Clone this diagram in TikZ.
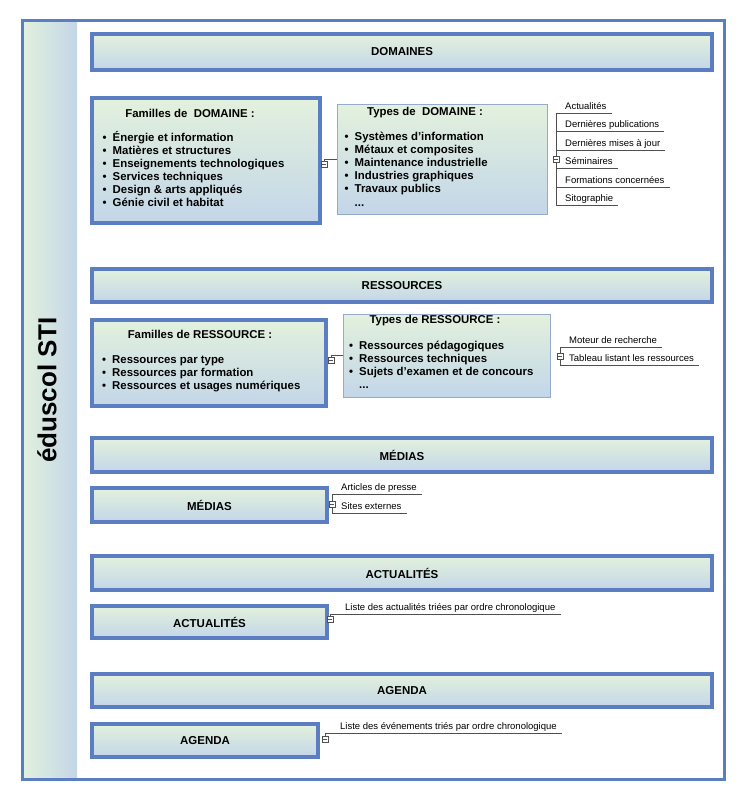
\documentclass[tikz,border=0pt]{standalone}
\usepackage{fontspec}
\setmainfont{Liberation Sans}
\usepackage{tikz}
\definecolor{bordbleu}{HTML}{5B7DC1}
\definecolor{bordclair}{HTML}{94ABCC}
\definecolor{hautvert}{HTML}{E3F1DD}
\definecolor{basbleu}{HTML}{C3D6E8}
\definecolor{filgris}{HTML}{505050}
\newcommand\puce{\makebox[10pt][l]{\textbullet}}

\begin{document}
\begin{tikzpicture}[x=1pt,y=-1pt,
 fort/.style={rectangle,draw=bordbleu,line width=4pt,top color=hautvert,bottom color=basbleu,inner sep=0pt,anchor=north west,font=\fontsize{11.5}{13}\selectfont\bfseries},
 fin/.style={rectangle,draw=bordclair,line width=1pt,top color=hautvert,bottom color=basbleu,inner sep=0pt,anchor=north west},
 titre/.style={font=\fontsize{11.4}{13}\selectfont\bfseries,inner sep=0pt},
 puceligne/.style={titre,anchor=west,text height=8pt,text depth=2.5pt},
 etiq/.style={font=\fontsize{9.5}{11}\selectfont,anchor=south west,inner xsep=5pt,inner ysep=1pt,text height=7pt,text depth=2pt},
 fil/.style={draw=filgris,line width=0.8pt},
 moins/.style={rectangle,draw=filgris,fill=white,line width=0.6pt,minimum size=6pt,inner sep=0pt,
   path picture={\draw[filgris,line width=0.6pt] ([xshift=1.4pt]path picture bounding box.west) -- ([xshift=-1.4pt]path picture bounding box.east);}}]
\useasboundingbox (0,0) rectangle (743,800);
\node[rectangle,left color=hautvert,right color=basbleu,minimum width=56pt,minimum height=756pt,inner sep=0pt,anchor=north west] (bande) at (21,21) {};
\node[rectangle,draw=bordbleu,line width=3pt,minimum width=702pt,minimum height=758pt,inner sep=0pt,anchor=north west] (cadre) at (20.5,19.5) {};
\node[rotate=90,font=\fontsize{26}{30}\selectfont\bfseries] (eduscol) at (47,390) {éduscol STI};
\foreach \nom/\titre/\y/\h in {domaines/DOMAINES/32/36,ressources/RESSOURCES/267/33,medias/MÉDIAS/436/34,actus/ACTUALITÉS/554/34,agenda/AGENDA/672/33}
  \node[fort,minimum width=620pt,minimum height=\h pt] (\nom) at (90,\y) {\titre};
\node[fort,minimum width=228pt,minimum height=125pt] (famdom) at (90,96) {};
\node[fin,minimum width=210pt,minimum height=110pt] (typdom) at (336.5,103.5) {};
\node[fort,minimum width=234pt,minimum height=86pt] (famres) at (90,318) {};
\node[fin,minimum width=207pt,minimum height=83pt] (typres) at (342.5,313.5) {};
\node[fort,minimum width=235pt,minimum height=34pt] (medbox) at (90,486) {MÉDIAS};
\node[fort,minimum width=235pt,minimum height=32pt] (actbox) at (90,604) {ACTUALITÉS};
\node[fort,minimum width=226pt,minimum height=33pt] (agdbox) at (90,722) {AGENDA};
\node[titre] (tfamdom) at (190,113) {Familles de\ \ DOMAINE :};
\node[titre] (ttypdom) at (425,113) {Types de\ \ DOMAINE :};
\node[titre] (tfamres) at (200,334) {Familles de RESSOURCE :};
\node[titre] (ttypres) at (435,321) {Types de RESSOURCE :};
\foreach \y/\txt [count=\i] in {139/Énergie et information,152/Matières et structures,165/Enseignements technologiques,178/Services techniques,191/Design \& arts appliqués,204/Génie civil et habitat}
  \node[puceligne] (lfd\i) at (102.5,\y) {\puce\txt};
\foreach \y/\txt [count=\i] in {138/Systèmes d'information,151/Métaux et composites,164/Maintenance industrielle,177/Industries graphiques,190/Travaux publics}
  \node[puceligne] (ltd\i) at (344.5,\y) {\puce\txt};
\node[puceligne] (ltd6) at (354.5,204) {...};
\foreach \y/\txt [count=\i] in {361/Ressources par type,374/Ressources par formation,387/Ressources et usages numériques}
  \node[puceligne] (lfr\i) at (102,\y) {\puce\txt};
\foreach \y/\txt [count=\i] in {347/Ressources pédagogiques,360/Ressources techniques,373/Sujets d'examen et de concours}
  \node[puceligne] (ltr\i) at (349,\y) {\puce\txt};
\node[puceligne] (ltr4) at (359,386) {...};
\coordinate (cfd) at (324,164);
\draw[fil] (cfd) |- (typdom.west);
\node[moins] (mfd) at (cfd) {};
\coordinate (cfr) at (331,360);
\draw[fil] (cfr) |- (typres.west);
\node[moins] (mfr) at (cfr) {};
\coordinate (ctd) at (556,159);
\foreach \y/\txt [count=\i] in {113/Actualités,131/Dernières publications,150/Dernières mises à jour,168/Séminaires,187/Formations concernées,205/Sitographie} {
  \node[etiq] (etd\i) at (560,\y) {\txt};
  \draw[fil] (ctd) |- (etd\i.south east);
}
\node[moins] (mtd) at (ctd) {};
\coordinate (ctr) at (560,356);
\foreach \y/\txt [count=\i] in {347/Moteur de recherche,365/Tableau listant les ressources} {
  \node[etiq] (etr\i) at (564,\y) {\txt};
  \draw[fil] (ctr) |- (etr\i.south east);
}
\node[moins] (mtr) at (ctr) {};
\coordinate (cmd) at (332,504);
\foreach \y/\txt [count=\i] in {494/Articles de presse,513/Sites externes} {
  \node[etiq] (emd\i) at (336,\y) {\txt};
  \draw[fil] (cmd) |- (emd\i.south east);
}
\node[moins] (mmd) at (cmd) {};
\coordinate (cac) at (330,619);
\node[etiq] (eac) at (340,614) {Liste des actualités triées par ordre chronologique};
\draw[fil] (cac) |- (eac.south east);
\node[moins] (mac) at (cac) {};
\coordinate (cag) at (325,739);
\node[etiq] (eag) at (335,733) {Liste des événements triés par ordre chronologique};
\draw[fil] (cag) |- (eag.south east);
\node[moins] (mag) at (cag) {};
\end{tikzpicture}
\end{document}
